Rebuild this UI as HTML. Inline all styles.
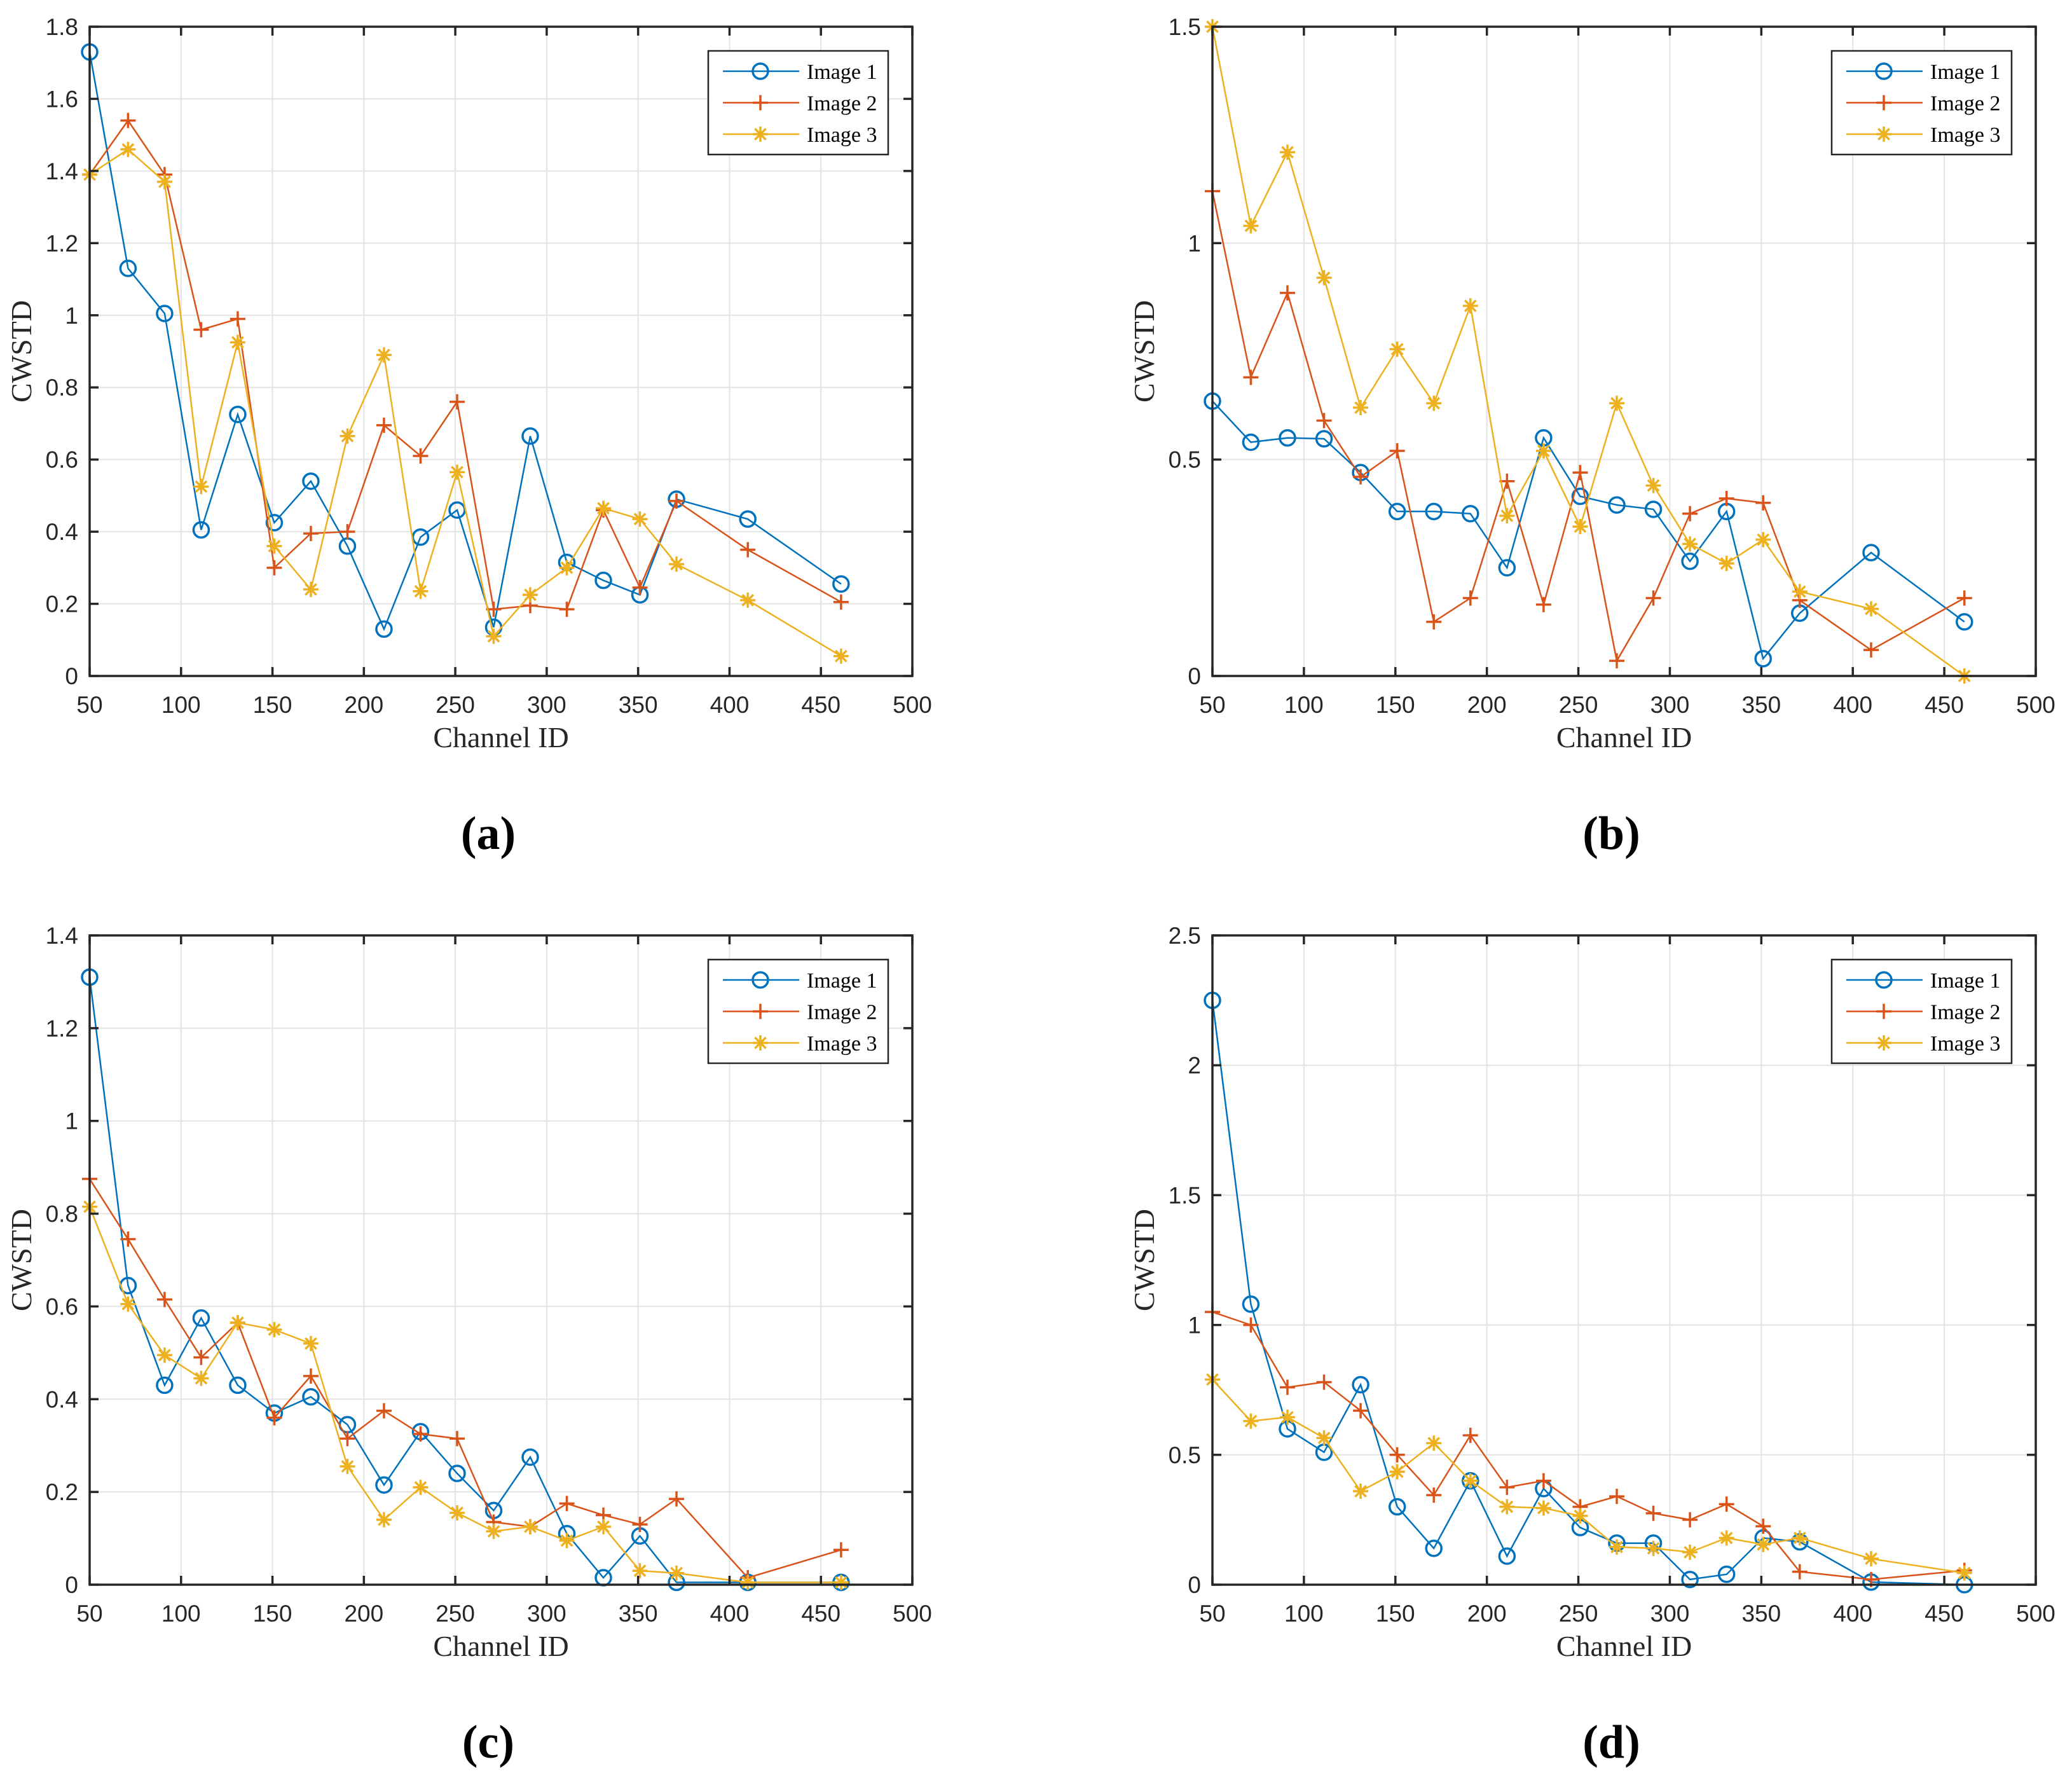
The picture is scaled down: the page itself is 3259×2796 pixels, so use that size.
<!DOCTYPE html>
<html><head><meta charset="utf-8">
<style>
html,body{margin:0;padding:0;background:#fff;}
svg{display:block;}
.tk{font-family:"Liberation Sans",Arial,sans-serif;font-size:37px;fill:#262626;}
.lab{font-family:"Liberation Serif","Times New Roman",serif;font-size:46px;fill:#262626;}
.leg{font-family:"Liberation Serif","Times New Roman",serif;font-size:34px;fill:#000;}
.cap{font-family:"Liberation Serif","Times New Roman",serif;font-size:74px;font-weight:bold;fill:#000;}
</style></head>
<body>
<svg id="fig" width="3259" height="2796" viewBox="0 0 3259 2796" xmlns="http://www.w3.org/2000/svg"></svg>
<script>
const channels = [50,71,91,111,131,151,171,191,211,231,251,271,291,311,331,351,371,410,461];
const xTicks = [50,100,150,200,250,300,350,400,450,500];
const seriesNames = ["Image 1","Image 2","Image 3"];

const aImg1 = [1.73,1.13,1.005,0.405,0.725,0.425,0.54,0.36,0.13,0.385,0.46,0.135,0.665,0.315,0.265,0.225,0.49,0.435,0.255];
const aImg2 = [1.39,1.54,1.39,0.96,0.99,0.30,0.395,0.40,0.695,0.61,0.76,0.185,0.195,0.185,0.46,0.245,0.485,0.35,0.205];
const aImg3 = [1.39,1.46,1.37,0.525,0.925,0.36,0.24,0.665,0.89,0.235,0.565,0.11,0.225,0.30,0.465,0.435,0.31,0.21,0.055];
const aTicks = [0,0.2,0.4,0.6,0.8,1,1.2,1.4,1.6,1.8];

const bImg1 = [0.635,0.54,0.55,0.548,0.47,0.38,0.38,0.375,0.25,0.55,0.415,0.395,0.385,0.265,0.38,0.04,0.145,0.285,0.125];
const bImg2 = [1.12,0.69,0.885,0.59,0.46,0.52,0.125,0.18,0.45,0.165,0.47,0.035,0.18,0.375,0.41,0.40,0.175,0.06,0.18];
const bImg3 = [1.50,1.04,1.21,0.92,0.62,0.755,0.63,0.855,0.37,0.52,0.345,0.63,0.44,0.305,0.26,0.315,0.195,0.155,0.0];
const bTicks = [0,0.5,1,1.5];

const cImg1 = [1.31,0.645,0.43,0.575,0.43,0.37,0.405,0.345,0.215,0.33,0.24,0.16,0.275,0.11,0.015,0.105,0.005,0.005,0.005];
const cImg2 = [0.875,0.745,0.615,0.49,0.565,0.36,0.45,0.315,0.375,0.325,0.315,0.135,0.125,0.175,0.15,0.13,0.185,0.015,0.075];
const cImg3 = [0.815,0.605,0.495,0.445,0.565,0.55,0.52,0.255,0.14,0.21,0.155,0.115,0.125,0.095,0.125,0.03,0.025,0.005,0.005];
const cTicks = [0,0.2,0.4,0.6,0.8,1,1.2,1.4];

const dImg1 = [2.25,1.08,0.60,0.51,0.77,0.30,0.14,0.40,0.11,0.37,0.22,0.16,0.16,0.02,0.04,0.18,0.165,0.01,0.0];
const dImg2 = [1.05,1.00,0.76,0.78,0.67,0.50,0.345,0.575,0.375,0.40,0.30,0.34,0.275,0.25,0.31,0.225,0.05,0.02,0.055];
const dImg3 = [0.79,0.63,0.645,0.565,0.36,0.435,0.545,0.40,0.30,0.295,0.265,0.145,0.14,0.125,0.18,0.155,0.18,0.10,0.045];
const dTicks = [0,0.5,1,1.5,2,2.5];

const NS = "http://www.w3.org/2000/svg";
const svg = document.getElementById("fig");
const COLORS = ["#0072BD","#D95319","#EDB120"];
function mk(tag, attrs, parent){
  const e = document.createElementNS(NS, tag);
  for (const k in attrs) e.setAttribute(k, attrs[k]);
  (parent||svg).appendChild(e);
  return e;
}
function marker(g, kind, x, y, color){
  const r = 12;
  if (kind === 0){
    const c = mk("circle",{cx:x,cy:y,r:r,fill:"none",stroke:color,"stroke-width":3.5},g);
    
    
  } else if (kind === 1){
    const p = mk("path",{d:`M${x-r},${y}H${x+r}M${x},${y-r}V${y+r}`,stroke:color,"stroke-width":3.5,fill:"none"},g);
    
    
  } else {
    const d = r*0.72;
    const p = mk("path",{d:`M${x-r},${y}H${x+r}M${x},${y-r}V${y+r}M${x-d},${y-d}L${x+d},${y+d}M${x-d},${y+d}L${x+d},${y-d}`,stroke:color,"stroke-width":3.5,fill:"none"},g);
    
    
  }
}
function fmt(v){ return String(Math.round(v*10)/10); }

function panel(id, L, R, T, B, ymax, yTicks, series, caption){
  const g = mk("g",{});
  
  
  const xs = v => L + (v-50)/450*(R-L);
  const ys = v => B - v/ymax*(B-T);
  const grid = mk("g",{stroke:"#e3e3e3","stroke-width":2},g);
  
  
  xTicks.forEach(t=>{ if(t>50&&t<500) mk("line",{x1:xs(t),x2:xs(t),y1:T,y2:B},grid); });
  yTicks.forEach(t=>{ if(t>0&&t<ymax) mk("line",{x1:L,x2:R,y1:ys(t),y2:ys(t)},grid); });
  series.forEach((vals,si)=>{
    const sg = mk("g",{},g);
    
    
    const pts = vals.map((v,i)=>xs(channels[i]).toFixed(1)+","+ys(v).toFixed(1)).join(" ");
    const pl = mk("polyline",{points:pts,fill:"none",stroke:COLORS[si],"stroke-width":2.5},sg);
    
    
    vals.forEach((v,i)=>marker(sg, si, xs(channels[i]), ys(v), COLORS[si]));
  });
  const ax = mk("g",{stroke:"#262626","stroke-width":3.5,fill:"none"},g);
  
  
  mk("rect",{x:L,y:T,width:R-L,height:B-T},ax);
  xTicks.forEach(t=>{
    mk("line",{x1:xs(t),x2:xs(t),y1:B,y2:B-14},ax);
    mk("line",{x1:xs(t),x2:xs(t),y1:T,y2:T+14},ax);
  });
  yTicks.forEach(t=>{
    mk("line",{x1:L,x2:L+14,y1:ys(t),y2:ys(t)},ax);
    mk("line",{x1:R,x2:R-14,y1:ys(t),y2:ys(t)},ax);
  });
  xTicks.forEach(t=>{
    const tx = mk("text",{x:xs(t),y:B+58,"text-anchor":"middle",class:"tk"},g);
    
    
    tx.textContent = t;
  });
  yTicks.forEach(t=>{
    const tx = mk("text",{x:L-18,y:ys(t)+13,"text-anchor":"end",class:"tk"},g);
    
    
    tx.textContent = fmt(t);
  });
  const xl = mk("text",{x:(L+R)/2,y:B+112,"text-anchor":"middle",class:"lab"},g);
  
  
  xl.textContent = "Channel ID";
  const cy = (T+B)/2;
  const yl = mk("text",{x:L-92,y:cy,"text-anchor":"middle",class:"lab",transform:`rotate(-90 ${L-92} ${cy})`},g);
  
  
  yl.textContent = "CWSTD";
  const cp = mk("text",{x:(L+R)/2-20,y:B+272,"text-anchor":"middle",class:"cap"},g);
  
  
  cp.textContent = caption;
  const lx2 = R-38, lx1 = lx2-283, ly1 = T+38, ly2 = T+201;
  const lg = mk("g",{},g);
  
  
  mk("rect",{x:lx1,y:ly1,width:lx2-lx1,height:ly2-ly1,fill:"#fff",stroke:"#262626","stroke-width":2.5},lg);
  seriesNames.forEach((n,si)=>{
    const ry = ly1+32+si*49.5;
    const e = mk("g",{},lg);
    
    
    mk("line",{x1:lx1+23,x2:lx1+143,y1:ry,y2:ry,stroke:COLORS[si],"stroke-width":2.5},e);
    marker(e, si, lx1+82, ry, COLORS[si]);
    const tx = mk("text",{x:lx1+155,y:ry+12,class:"leg"},e);
    tx.textContent = n;
  });
}
panel("a",141,1435,42,1063,1.8,aTicks,[aImg1,aImg2,aImg3],"(a)");
panel("b",1907,3202,42,1063,1.5,bTicks,[bImg1,bImg2,bImg3],"(b)");
panel("c",141,1435,1471,2492,1.4,cTicks,[cImg1,cImg2,cImg3],"(c)");
panel("d",1907,3202,1471,2492,2.5,dTicks,[dImg1,dImg2,dImg3],"(d)");
</script>
</body></html>
